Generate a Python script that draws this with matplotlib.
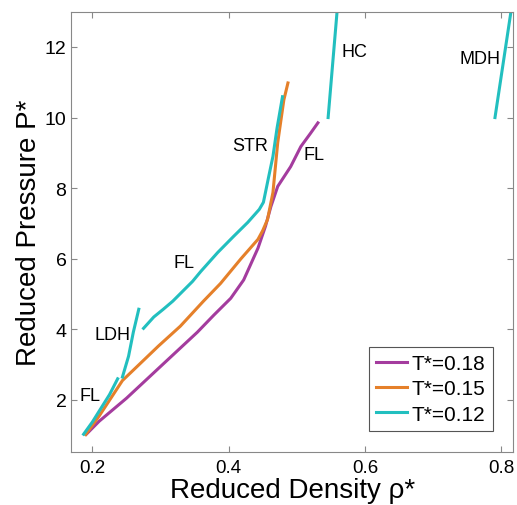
import numpy as np
import matplotlib
matplotlib.use('Agg')
import matplotlib.pyplot as plt

plt.rcParams['font.family'] = ['Liberation Sans', 'DejaVu Sans']

# isotherms: reduced density vs reduced pressure
rho_18 = [0.191, 0.21, 0.25, 0.30, 0.354, 0.378, 0.403, 0.422, 0.443, 0.454, 0.462,
          0.472, 0.491, 0.506, 0.52, 0.531]
p_18 = [1.03, 1.40, 2.05, 2.95, 3.92, 4.40, 4.88, 5.40, 6.30, 6.92, 7.48,
        8.05, 8.61, 9.18, 9.55, 9.85]

rho_15 = [0.19, 0.21, 0.244, 0.297, 0.329, 0.363, 0.388, 0.418, 0.443, 0.45, 0.457,
          0.465, 0.472, 0.481, 0.487]
p_15 = [1.02, 1.55, 2.55, 3.53, 4.09, 4.80, 5.30, 6.00, 6.55, 6.80, 7.11,
        7.88, 9.29, 10.5, 10.98]

# T*=0.12 has separate branches
rho_12a = [0.187, 0.20, 0.212, 0.225, 0.237]
p_12a = [1.03, 1.38, 1.75, 2.15, 2.60]
rho_12b = [0.244, 0.253, 0.260, 0.268]
p_12b = [2.65, 3.24, 3.92, 4.57]
rho_12c = [0.275, 0.290, 0.304, 0.318, 0.347, 0.359, 0.384, 0.407, 0.428, 0.445,
           0.451, 0.454, 0.459, 0.465, 0.471, 0.479]
p_12c = [4.03, 4.35, 4.57, 4.80, 5.36, 5.64, 6.18, 6.63, 7.03, 7.40,
         7.60, 7.88, 8.35, 8.90, 9.70, 10.59]
rho_hc = [0.546, 0.560]
p_hc = [10.0, 13.2]
rho_mdh = [0.791, 0.816]
p_mdh = [10.0, 13.2]

labels = ['FL', 'LDH', 'FL', 'STR', 'FL', 'HC', 'MDH']
label_x = [0.197, 0.229, 0.334, 0.432, 0.525, 0.584, 0.769]
label_y = [2.14, 3.86, 5.9, 9.2, 8.95, 11.86, 11.66]

c18 = '#a43c9e'
c15 = '#e5802a'
c12 = '#22bfbf'

fig, ax = plt.subplots(figsize=(5.17, 5.06), dpi=100)
fig.subplots_adjust(left=0.138, right=0.993, top=0.975, bottom=0.105)

lw = 2.2
ax.plot(rho_18, p_18, color=c18, lw=lw, label='T*=0.18')
ax.plot(rho_15, p_15, color=c15, lw=lw, label='T*=0.15')
ax.plot(rho_12a, p_12a, color=c12, lw=lw, label='T*=0.12')
for xs, ys in [(rho_12b, p_12b), (rho_12c, p_12c), (rho_hc, p_hc), (rho_mdh, p_mdh)]:
    ax.plot(xs, ys, color=c12, lw=lw)

for t, x, y in zip(labels, label_x, label_y):
    ax.text(x, y, t, fontsize=13, ha='center', va='center')

ax.set_xlim(0.169, 0.818)
ax.set_ylim(0.53, 13.0)
ax.set_xticks([0.2, 0.4, 0.6, 0.8])
ax.set_xticklabels(['0.2', '0.4', '0.6', '0.8'])
ax.set_yticks([2, 4, 6, 8, 10, 12])
ax.tick_params(direction='in', top=True, right=True, labelsize=14, color='#888888', length=4)
ax.tick_params(axis='x', labelsize=13.5, pad=5)
for s in ax.spines.values():
    s.set_color('#888888')
ax.set_xlabel('Reduced Density ρ*', fontsize=20, labelpad=1)
ax.set_ylabel('Reduced Pressure P*', fontsize=20, labelpad=2)

leg = ax.legend(loc='lower right', fontsize=15, fancybox=False, framealpha=1,
                handlelength=1.5, handletextpad=0.2, borderaxespad=1.0, labelspacing=0.3,
                borderpad=0.35)
leg.get_frame().set_edgecolor('#555555')
leg.get_frame().set_linewidth(0.8)

fig.savefig('out.png', dpi=100)
